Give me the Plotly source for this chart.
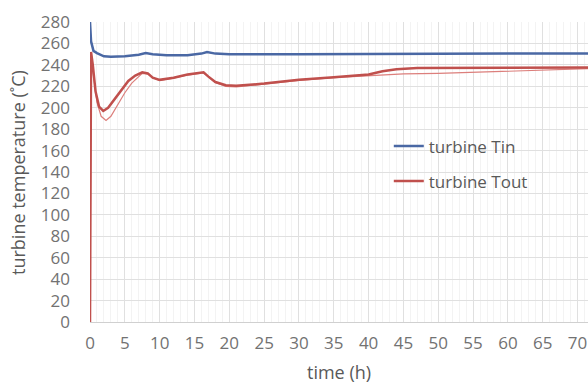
import plotly.graph_objects as go

# time (h) and temperatures (°C)
t_tin = [0, 0.15, 0.5, 1, 2, 3, 5, 7, 8, 9, 11, 14, 16, 16.8, 18, 20, 30, 45, 60, 72]
tin = [280, 262, 253, 251, 248, 247.5, 248, 249.5, 251, 250, 249, 249, 250.5, 252, 250.5, 250, 250, 250.5, 250.5, 250.5]

t_tout = [0, 0.15, 0.4, 0.8, 1.3, 1.9, 2.6, 3.5, 4.5, 5.5, 6.5, 7.5, 8.3, 9, 10, 12, 14, 15.5,
          16.3, 17, 18, 19.5, 21, 25, 30, 35, 40, 42, 44, 47, 55, 65, 72]
tout = [0, 252, 240, 215, 201, 197, 200, 208, 217, 225, 230, 233, 232, 228, 226, 228, 231, 232,
        233, 229, 224, 221, 220.5, 222.5, 226, 228.5, 231, 234, 236, 237, 237, 237, 237.5]

t_tout2 = [0, 0.15, 0.5, 1, 1.6, 2.3, 3, 4, 5, 6, 7, 7.5, 8.3, 9, 10, 12, 14, 15.5,
           16.3, 17, 18, 19.5, 21, 25, 30, 35, 40, 42, 45, 50, 55, 60, 65, 72]
tout2 = [0, 250, 230, 205, 192, 188, 192, 203, 214, 223, 229, 232, 231.5, 228, 225.5, 227.5, 230.5, 232,
         232.5, 229, 223.5, 220, 219.5, 222, 225.5, 228, 230, 231, 231.5, 232, 233, 234, 235, 236.5]

x_ticks = list(range(0, 71, 5))
y_ticks = list(range(0, 281, 20))

font = "Open Sans"
grey = "#595959"
tick_grey = "#727272"

fig = go.Figure()
fig.add_trace(go.Scatter(x=t_tin, y=tin, mode="lines", name="turbine Tin",
                         line=dict(color="#4a68a4", width=2.5), legendgroup="a"))
fig.add_trace(go.Scatter(x=t_tout2, y=tout2, mode="lines", name="turbine Tout (2)",
                         line=dict(color="#dc7f7c", width=1.2), showlegend=False))
fig.add_trace(go.Scatter(x=t_tout, y=tout, mode="lines", name="turbine Tout",
                         line=dict(color="#c0504d", width=2.5), legendgroup="b"))

fig.update_layout(
    width=588, height=385,
    margin=dict(l=90, r=0, t=22, b=63),
    paper_bgcolor="white", plot_bgcolor="white",
    font=dict(family=font, size=17, color=grey),
    showlegend=True,
    legend=dict(x=0.60, y=0.527, xanchor="left", yanchor="middle",
                bgcolor="rgba(0,0,0,0)", tracegroupgap=10, itemwidth=30,
                font=dict(family=font, size=17, color=grey)),
    xaxis=dict(range=[0, 71.5], tickvals=x_ticks, showgrid=True, gridcolor="#e0e0e0",
               gridwidth=1, showline=True, linecolor="#d0d0d0", linewidth=1,
               ticks="", ticklabelstandoff=6, zeroline=False,
               tickfont=dict(family=font, size=17, color=tick_grey),
               minor=dict(dtick=1, showgrid=True, gridcolor="#f3f3f3")),
    yaxis=dict(range=[0, 280], tickvals=y_ticks, showgrid=True, gridcolor="#e0e0e0",
               gridwidth=1, showline=False, ticks="", ticklabelstandoff=19, zeroline=False,
               tickfont=dict(family=font, size=17, color=tick_grey)),
    annotations=[
        dict(text="time (h)", x=0.5, y=-0.167, xref="paper", yref="paper",
             xanchor="center", yanchor="middle", showarrow=False,
             font=dict(family=font, size=18, color=grey)),
        dict(text="turbine temperature (˚C)", x=-0.1446, y=0.5, xref="paper", yref="paper",
             xanchor="center", yanchor="middle", textangle=-90, showarrow=False,
             font=dict(family=font, size=18, color=grey)),
    ],
)

fig.write_html("out.html")
